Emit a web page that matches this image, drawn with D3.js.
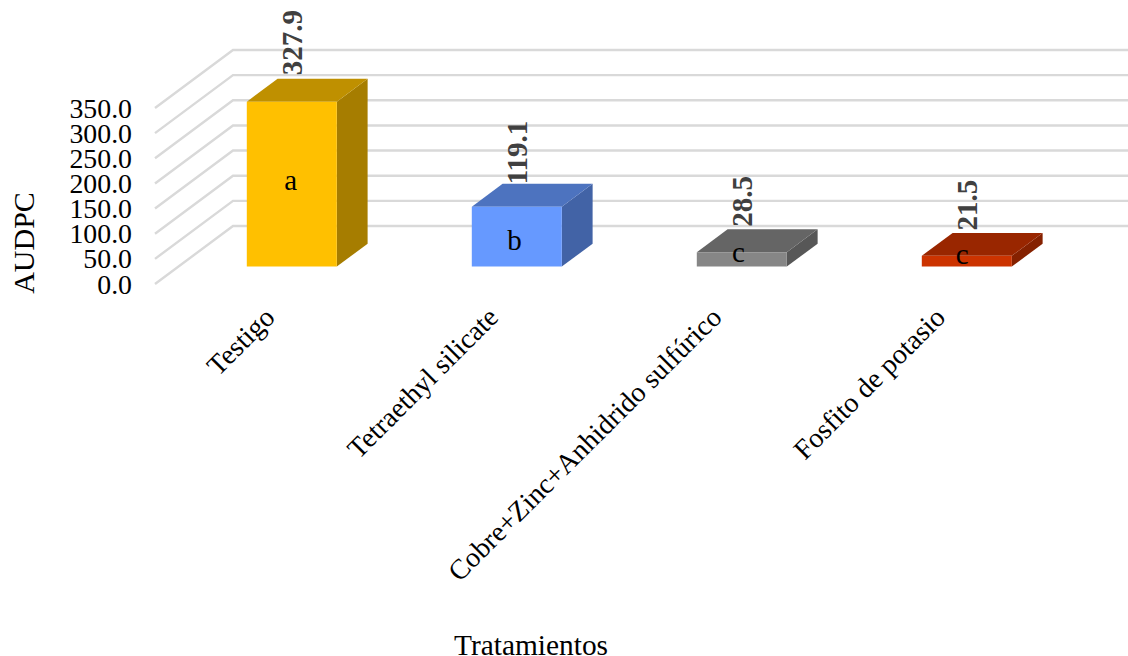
<!DOCTYPE html>
<html>
<head>
<meta charset="utf-8">
<script src="https://cdn.jsdelivr.net/npm/d3@7"></script>
<style>
html,body{margin:0;padding:0;background:#fff;overflow:hidden}
svg{display:block}
text{font-family:"Liberation Serif","Times New Roman",serif}
</style>
</head>
<body>
<svg id="chart" width="1128" height="656"></svg>
<script>
// AUDPC by treatment
const categories = ["Testigo", "Tetraethyl silicate", "Cobre+Zinc+Anhidrido sulfúrico", "Fosfito de potasio"];
const audpc = [327.9, 119.1, 28.5, 21.5];
const letters = ["a", "b", "c", "c"];
const yTicks = [0, 50, 100, 150, 200, 250, 300, 350];
const frontColors = ["#FFC000", "#6699FF", "#868686", "#CC3300"];
const topColors = ["#BF9000", "#4D73BF", "#656565", "#992600"];
const sideColors = ["#A67D00", "#4263A6", "#575757", "#852100"];

const svg = d3.select("#chart");

// Oblique projection: the floor runs from the front edge to the back wall
const floorDx = 78, floorDy = -58;
const barStart = 0.30, barDepth = 0.395;
const frontBase = 284, frontX = 155, plotLeft = 179.3;

const y = d3.scaleLinear().domain([0, 350]).range([frontBase, frontBase - 176]);
const x = d3.scaleBand().domain(categories)
  .range([plotLeft, plotLeft + 900])
  .paddingInner(0.6).paddingOuter(0.3);

// Projects a category-axis position, a value and a depth (0..1) to the page
const px = (xv, depth) => xv + floorDx * (depth - barStart);
const py = (v, depth) => y(v) + floorDy * depth;

// Walls: the slanted side gridlines and the horizontal back gridlines
const grid = svg.append("g").attr("fill", "none").attr("stroke", "#d9d9d9").attr("stroke-width", 2.4);
grid.selectAll("path").data(yTicks).join("path")
  .attr("d", d => d3.line()([
    [frontX, y(d)],
    [frontX + floorDx, py(d, 1)],
    [1128, py(d, 1)]
  ]));

// Tick labels
svg.append("g").selectAll("text").data(yTicks).join("text")
  .attr("x", 132).attr("y", d => y(d) + 9.5)
  .attr("text-anchor", "end").attr("font-size", 27.8).attr("fill", "#000")
  .text(d3.format(".1f"));

// Bars, each made of side, top and front faces
const bars = svg.append("g").selectAll("g").data(categories).join("g");
const polygon = pts => d3.line()(pts) + "Z";
const letterNudge = [-1.5, 1, -1, -1];
const valueNudge = [-3.5, 0.5, -2.5, -2.5];
bars.each(function (c, i) {
  const g = d3.select(this);
  const x0 = x(c), x1 = x0 + x.bandwidth(), v = audpc[i];
  const d0 = barStart, d1 = barStart + barDepth;
  g.append("path").attr("fill", sideColors[i]).attr("d", polygon([
    [x1, py(0, d0)], [px(x1, d1), py(0, d1)], [px(x1, d1), py(v, d1)], [x1, py(v, d0)]
  ]));
  g.append("path").attr("fill", topColors[i]).attr("d", polygon([
    [x0, py(v, d0)], [x1, py(v, d0)], [px(x1, d1), py(v, d1)], [px(x0, d1), py(v, d1)]
  ]));
  g.append("path").attr("fill", frontColors[i]).attr("d", polygon([
    [x0, py(0, d0)], [x1, py(0, d0)], [x1, py(v, d0)], [x0, py(v, d0)]
  ]));
  // Significance letter in the centre of the front face
  g.append("text")
    .attr("x", x0 + x.bandwidth() / 2 - 1 - 1.2 * i)
    .attr("y", (py(0, d0) + py(v, d0)) / 2 + 7.5 + (i === 1 ? 5 : i > 1 ? -3.5 : 0) + letterNudge[i])
    .attr("text-anchor", "middle").attr("font-size", 29).attr("fill", "#000")
    .text(letters[i]);
  // Value label, read upwards, above the back edge of the top face
  const lx = x0 + x.bandwidth() / 2 + 10, ly = py(v, d1) + valueNudge[i];
  g.append("text")
    .attr("transform", `translate(${lx},${ly}) rotate(-90)`)
    .attr("font-size", 29).attr("font-weight", "bold").attr("fill", "#404040")
    .text(d3.format(".1f")(v));
});

// Category labels at 45 degrees, ending under the bars
svg.append("g").selectAll("text").data(categories).join("text")
  .attr("transform", (c, i) => `translate(${x(c) + x.bandwidth() / 2 - 15.5 - 1.5 * i},${319}) rotate(-45)`)
  .attr("text-anchor", "end").attr("font-size", 28).attr("fill", "#000")
  .text(c => c);

// Axis titles
svg.append("text").attr("x", 531).attr("y", 655)
  .attr("text-anchor", "middle").attr("font-size", 29.4).attr("fill", "#000")
  .text("Tratamientos");
svg.append("text")
  .attr("transform", "translate(34,243) rotate(-90)")
  .attr("text-anchor", "middle").attr("font-size", 30).attr("fill", "#000")
  .text("AUDPC");
</script>
</body>
</html>
